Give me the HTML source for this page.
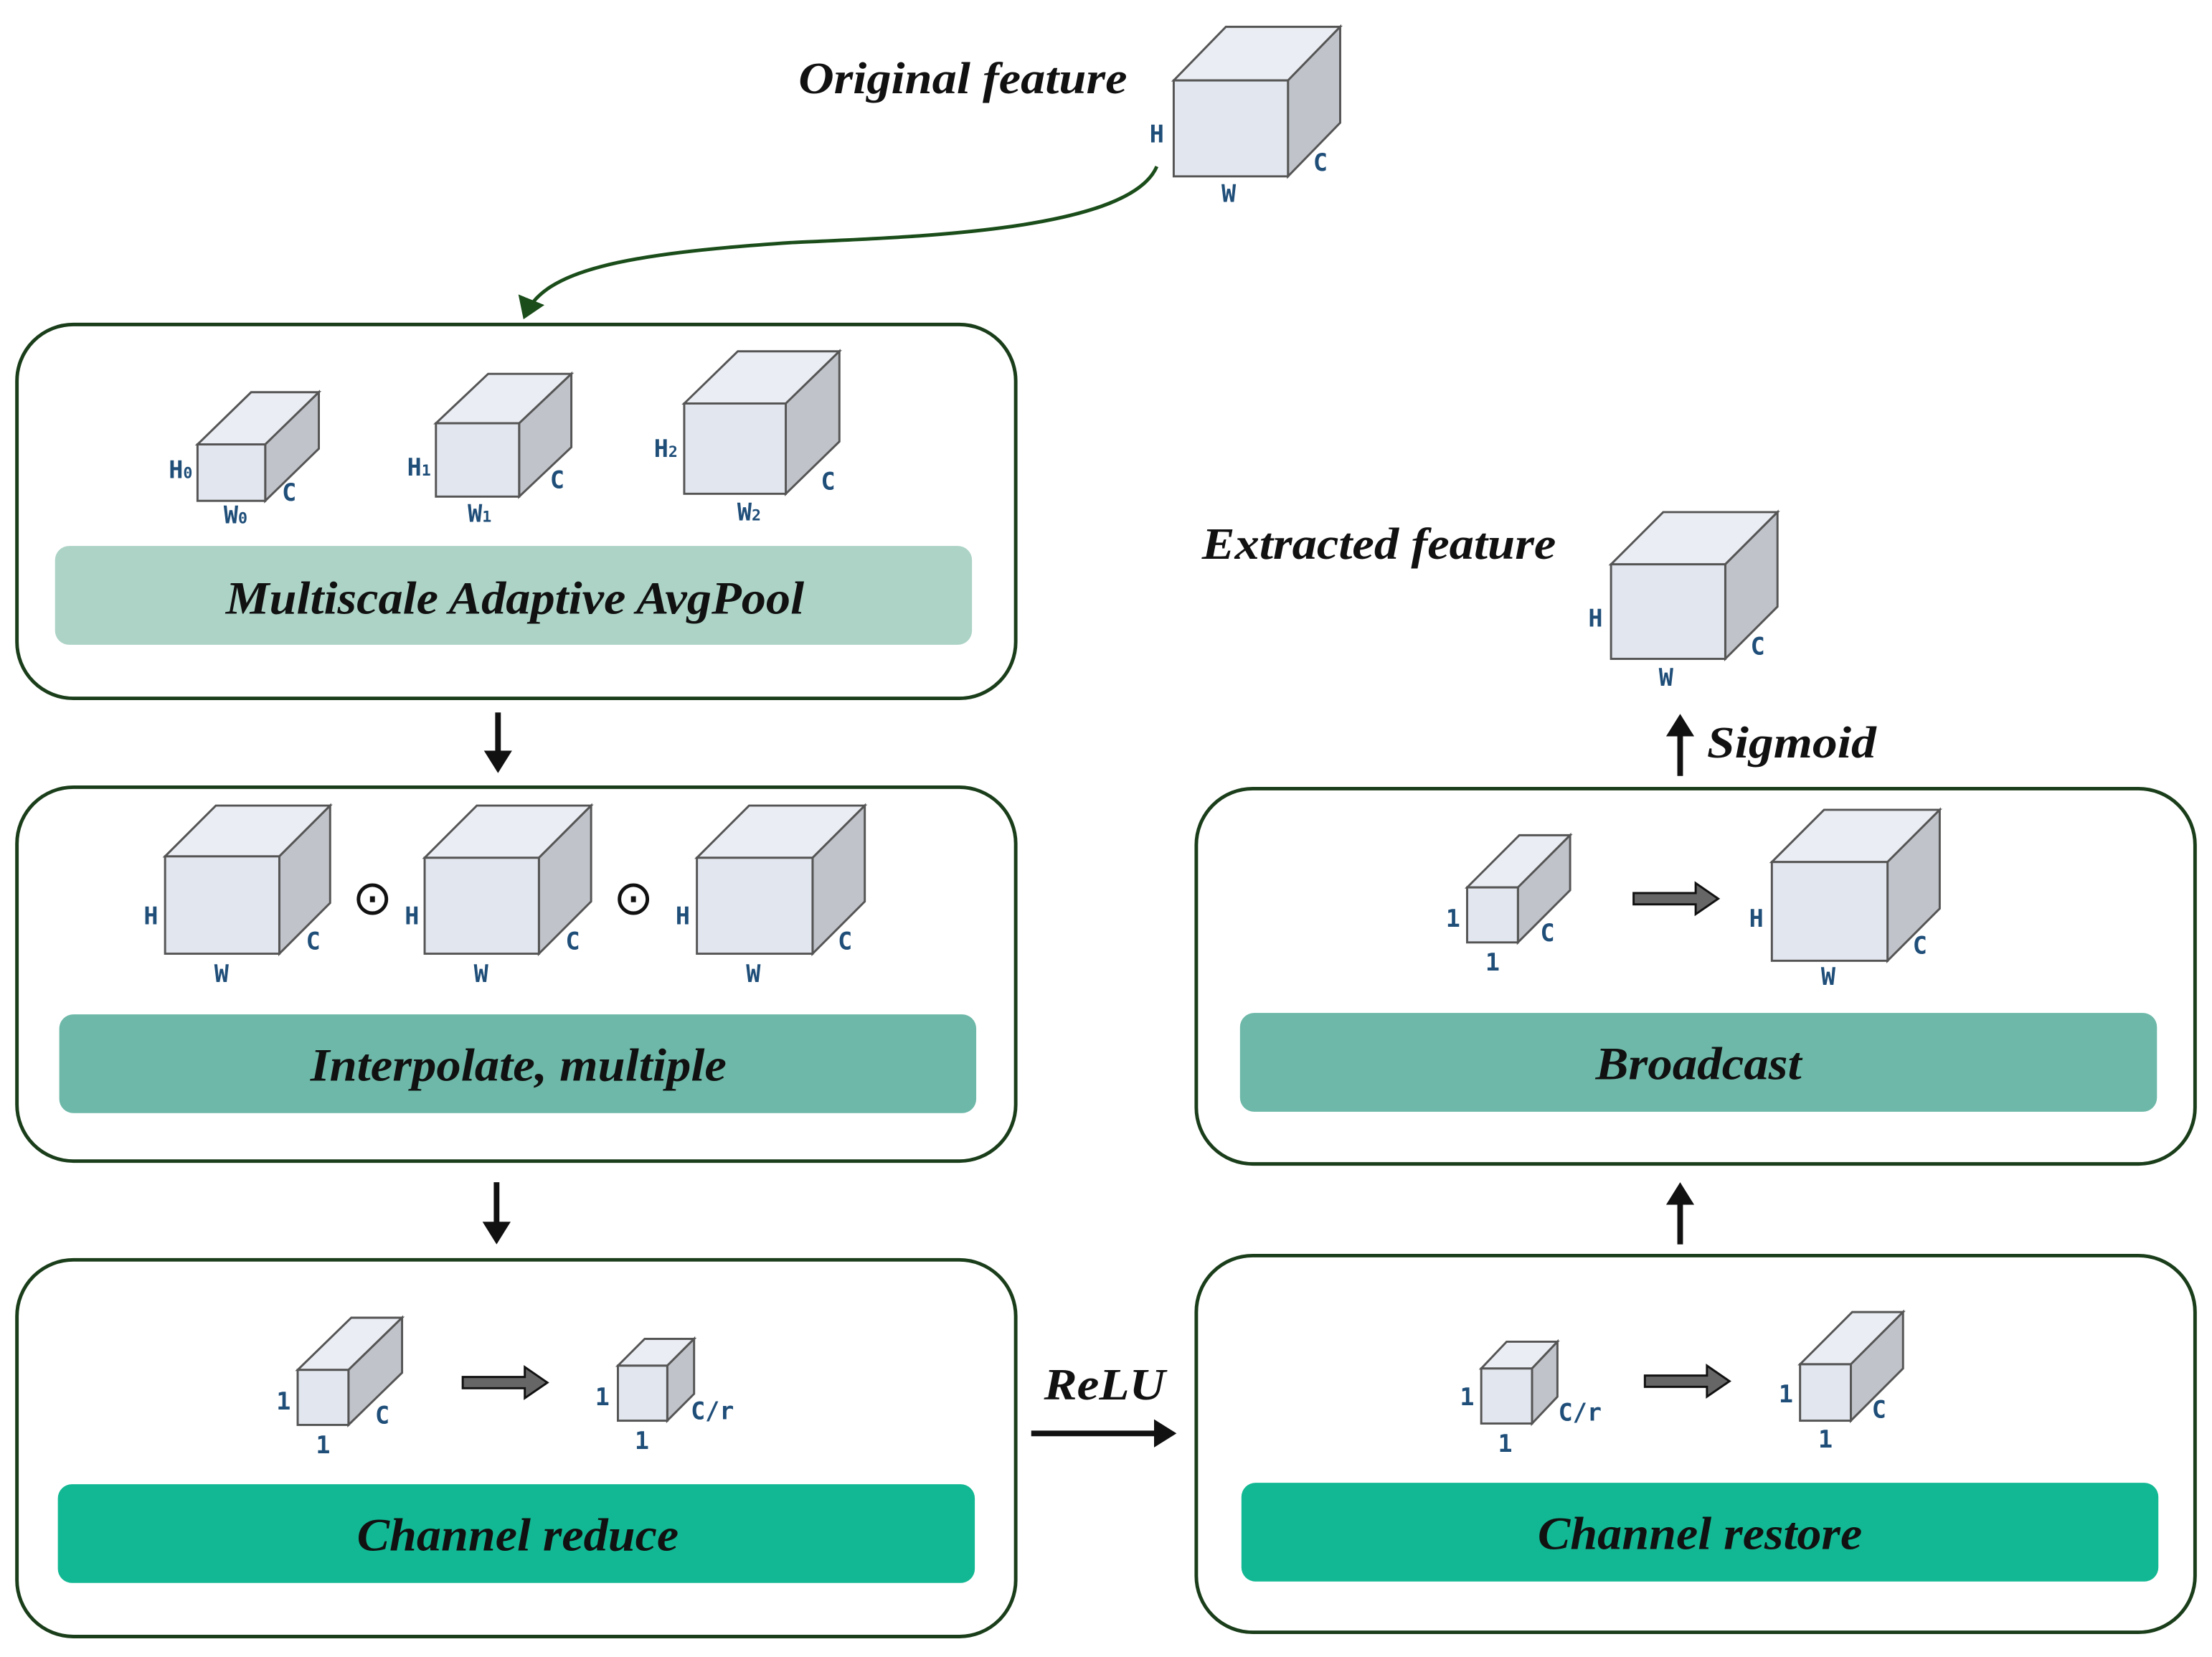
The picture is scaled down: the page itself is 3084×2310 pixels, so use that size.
<!DOCTYPE html>
<html><head><meta charset="utf-8"><style>html,body{margin:0;padding:0;background:#fff}svg{display:block}</style></head><body>
<svg xmlns="http://www.w3.org/2000/svg" width="3084" height="2310" viewBox="0 0 1568 1174.5">
<defs>
<marker id="ga" markerWidth="8" markerHeight="8" refX="5" refY="4" orient="auto" markerUnits="strokeWidth"><path d="M0,0 L6,4 L0,8 z" fill="#1a4d1a"/></marker>
<marker id="ka" markerWidth="5" markerHeight="5" refX="2.5" refY="2.5" orient="auto" markerUnits="strokeWidth"><path d="M0,0 L4,2.5 L0,5 z" fill="#111"/></marker>
<style>
.bx{fill:#fff;stroke:#1a3d1a;stroke-width:2.5}
.t{font-family:"Liberation Serif",serif;font-weight:bold;font-style:italic;fill:#111}
.l{font-family:"DejaVu Sans Mono",monospace;font-size:17px;fill:#1f4e79;text-anchor:middle;font-weight:bold}
.f{fill:#e2e6ee;stroke:#555;stroke-width:1.5}
.tp{fill:#eaedf3;stroke:#555;stroke-width:1.5}
.sd{fill:#c0c3ca;stroke:#555;stroke-width:1.5}
.ba{fill:#666;stroke:#111;stroke-width:1.5}
</style>
</defs>

<rect class="bx" x="12" y="230" width="708" height="265" rx="40"/>
<rect x="39" y="387" width="650" height="70" rx="10" fill="#acd3c6"/>
<text class="t" x="160" y="435" font-size="33" textLength="410" lengthAdjust="spacingAndGlyphs">Multiscale Adaptive AvgPool</text>

<rect class="bx" x="12" y="558" width="708" height="265" rx="40"/>
<rect x="42" y="719" width="650" height="70" rx="10" fill="#6db8a8"/>
<text class="t" x="220" y="766" font-size="33" textLength="295" lengthAdjust="spacingAndGlyphs">Interpolate, multiple</text>

<rect class="bx" x="12" y="893" width="708" height="267" rx="40"/>
<rect x="41" y="1052" width="650" height="70" rx="10" fill="#12b893"/>
<text class="t" x="253" y="1099" font-size="33" textLength="228" lengthAdjust="spacingAndGlyphs">Channel reduce</text>

<rect class="bx" x="848" y="559" width="708" height="266" rx="40"/>
<rect x="879" y="718" width="650" height="70" rx="10" fill="#6db8a8"/>
<text class="t" x="1131" y="765" font-size="33" textLength="146" lengthAdjust="spacingAndGlyphs">Broadcast</text>

<rect class="bx" x="848" y="890" width="708" height="267" rx="40"/>
<rect x="880" y="1051" width="650" height="70" rx="10" fill="#12b893"/>
<text class="t" x="1090" y="1098" font-size="33" textLength="230" lengthAdjust="spacingAndGlyphs">Channel restore</text>

<text class="t" x="566" y="66" font-size="32" textLength="233" lengthAdjust="spacingAndGlyphs">Original feature</text>
<text class="t" x="852" y="396" font-size="32" textLength="251" lengthAdjust="spacingAndGlyphs">Extracted feature</text>
<text class="t" x="1210" y="537" font-size="32" textLength="120" lengthAdjust="spacingAndGlyphs">Sigmoid</text>
<text class="t" x="740" y="992" font-size="32" textLength="86" lengthAdjust="spacingAndGlyphs">ReLU</text>

<g>
<polygon class="tp" points="832,57 869,19 950,19 913,57"/><polygon class="sd" points="913,57 950,19 950,87 913,125"/><rect class="f" x="832" y="57" width="81" height="68"/>
<text class="l" x="820" y="101">H</text><text class="l" x="871" y="143">W</text><text class="l" x="936" y="121">C</text>
<polygon class="tp" points="140,315 178,278 226,278 188,315"/><polygon class="sd" points="188,315 226,278 226,318 188,355"/><rect class="f" x="140" y="315" width="48" height="40"/>
<text class="l" x="128" y="339">H<tspan font-size="11">0</tspan></text><text class="l" x="167" y="371">W<tspan font-size="11">0</tspan></text><text class="l" x="205" y="355">C</text>
<polygon class="tp" points="309,300 346,265 405,265 368,300"/><polygon class="sd" points="368,300 405,265 405,317 368,352"/><rect class="f" x="309" y="300" width="59" height="52"/>
<text class="l" x="297" y="337">H<tspan font-size="11">1</tspan></text><text class="l" x="340" y="370">W<tspan font-size="11">1</tspan></text><text class="l" x="395" y="346">C</text>
<polygon class="tp" points="485,286 523,249 595,249 557,286"/><polygon class="sd" points="557,286 595,249 595,313 557,350"/><rect class="f" x="485" y="286" width="72" height="64"/>
<text class="l" x="472" y="324">H<tspan font-size="11">2</tspan></text><text class="l" x="531" y="369">W<tspan font-size="11">2</tspan></text><text class="l" x="587" y="347">C</text>
<polygon class="tp" points="117,607 153,571 234,571 198,607"/><polygon class="sd" points="198,607 234,571 234,640 198,676"/><rect class="f" x="117" y="607" width="81" height="69"/>
<text class="l" x="107" y="655">H</text><text class="l" x="157" y="696">W</text><text class="l" x="222" y="673">C</text>
<polygon class="tp" points="301,608 338,571 419,571 382,608"/><polygon class="sd" points="382,608 419,571 419,639 382,676"/><rect class="f" x="301" y="608" width="81" height="68"/>
<text class="l" x="292" y="655">H</text><text class="l" x="341" y="696">W</text><text class="l" x="406" y="673">C</text>
<polygon class="tp" points="494,608 531,571 613,571 576,608"/><polygon class="sd" points="576,608 613,571 613,639 576,676"/><rect class="f" x="494" y="608" width="82" height="68"/>
<text class="l" x="484" y="655">H</text><text class="l" x="534" y="696">W</text><text class="l" x="599" y="673">C</text>
<text x="264" y="648" font-size="34" text-anchor="middle" font-family="DejaVu Sans,sans-serif" fill="#111">⊙</text>
<text x="449" y="648" font-size="34" text-anchor="middle" font-family="DejaVu Sans,sans-serif" fill="#111">⊙</text>
<polygon class="tp" points="211,971 249,934 285,934 247,971"/><polygon class="sd" points="247,971 285,934 285,973 247,1010"/><rect class="f" x="211" y="971" width="36" height="39"/>
<text class="l" x="201" y="999">1</text><text class="l" x="229" y="1030">1</text><text class="l" x="271" y="1009">C</text>
<polygon class="tp" points="438,968 457,949 492,949 473,968"/><polygon class="sd" points="473,968 492,949 492,988 473,1007"/><rect class="f" x="438" y="968" width="35" height="39"/>
<text class="l" x="427" y="996">1</text><text class="l" x="455" y="1027">1</text><text class="l" x="505" y="1006">C/r</text>
<polygon class="tp" points="1050,970 1068,951 1104,951 1086,970"/><polygon class="sd" points="1086,970 1104,951 1104,990 1086,1009"/><rect class="f" x="1050" y="970" width="36" height="39"/>
<text class="l" x="1040" y="996">1</text><text class="l" x="1067" y="1029">1</text><text class="l" x="1120" y="1007">C/r</text>
<polygon class="tp" points="1276,967 1313,930 1349,930 1312,967"/><polygon class="sd" points="1312,967 1349,930 1349,970 1312,1007"/><rect class="f" x="1276" y="967" width="36" height="40"/>
<text class="l" x="1266" y="994">1</text><text class="l" x="1294" y="1026">1</text><text class="l" x="1332" y="1005">C</text>
<polygon class="tp" points="1040,629 1077,592 1113,592 1076,629"/><polygon class="sd" points="1076,629 1113,592 1113,631 1076,668"/><rect class="f" x="1040" y="629" width="36" height="39"/>
<text class="l" x="1030" y="657">1</text><text class="l" x="1058" y="688">1</text><text class="l" x="1097" y="667">C</text>
<polygon class="tp" points="1256,611 1293,574 1375,574 1338,611"/><polygon class="sd" points="1338,611 1375,574 1375,644 1338,681"/><rect class="f" x="1256" y="611" width="82" height="70"/>
<text class="l" x="1245" y="657">H</text><text class="l" x="1296" y="698">W</text><text class="l" x="1361" y="676">C</text>
<polygon class="tp" points="1142,400 1179,363 1260,363 1223,400"/><polygon class="sd" points="1223,400 1260,363 1260,430 1223,467"/><rect class="f" x="1142" y="400" width="81" height="67"/>
<text class="l" x="1131" y="444">H</text><text class="l" x="1181" y="486">W</text><text class="l" x="1246" y="464">C</text>
</g>

<polygon class="ba" points="328,976 372,976 372,969 388,980 372,991 372,984 328,984"/>
<polygon class="ba" points="1166,975 1210,975 1210,968 1226,979 1210,990 1210,983 1166,983"/>
<polygon class="ba" points="1158,633 1202,633 1202,626 1218,637 1202,648 1202,641 1158,641"/>

<line x1="353" y1="505" x2="353" y2="542" stroke="#111" stroke-width="4" marker-end="url(#ka)"/>
<line x1="352" y1="838" x2="352" y2="876" stroke="#111" stroke-width="4" marker-end="url(#ka)"/>
<line x1="1191" y1="550" x2="1191" y2="512" stroke="#111" stroke-width="4" marker-end="url(#ka)"/>
<line x1="1191" y1="882" x2="1191" y2="844" stroke="#111" stroke-width="4" marker-end="url(#ka)"/>
<line x1="731" y1="1016" x2="828" y2="1016" stroke="#111" stroke-width="4" marker-end="url(#ka)"/>

<path d="M820,118 C800,165 640,168 560,172 C440,180 385,192 372,224" fill="none" stroke="#1a4d1a" stroke-width="2.5" marker-end="url(#ga)"/>
</svg>
</body></html>
